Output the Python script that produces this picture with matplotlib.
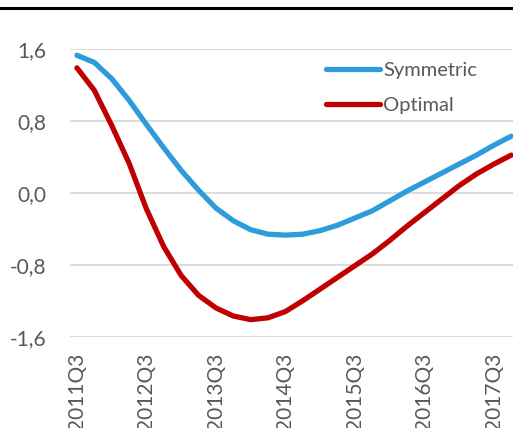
# -*- coding: utf-8 -*-
import numpy as np
import matplotlib
matplotlib.use("Agg")
import matplotlib.pyplot as plt
from matplotlib.lines import Line2D

# quarters 2011Q3 .. 2017Q4
quarters = ['%dQ%d' % (2011 + (q + 2) // 4, (q + 2) % 4 + 1) for q in range(26)]
symmetric = [1.53, 1.45, 1.27, 1.03, 0.76, 0.50, 0.25, 0.03, -0.17, -0.31, -0.41, -0.46,
             -0.47, -0.46, -0.42, -0.36, -0.28, -0.20, -0.09, 0.02, 0.12, 0.22, 0.32, 0.42,
             0.53, 0.63]
optimal = [1.39, 1.14, 0.75, 0.33, -0.18, -0.60, -0.92, -1.14, -1.28, -1.37, -1.41, -1.39,
           -1.32, -1.20, -1.07, -0.94, -0.81, -0.68, -0.53, -0.37, -0.22, -0.07, 0.08, 0.21,
           0.32, 0.42]
ytick_vals = [-1.6, -0.8, 0.0, 0.8, 1.6]
ytick_labels = ['-1,6', '-0,8', '0,0', '0,8', '1,6']

plt.rcParams['font.family'] = ['Lato', 'DejaVu Sans']
grey = '#595959'

fig = plt.figure(figsize=(5.13, 4.28), dpi=100)
ax = fig.add_axes([70 / 513, 91.3 / 428, 443 / 513, 287.7 / 428])

x = np.arange(len(quarters))
ax.plot(x, symmetric, color='#2E9BDA', lw=3.8, solid_capstyle='round', label='Symmetric')
ax.plot(x, optimal, color='#C00000', lw=3.8, solid_capstyle='round', label='Optimal')

ax.set_ylim(-1.6, 1.6)
ax.set_xlim(-0.4, 25.1)
ax.set_yticks(ytick_vals)
ax.set_yticklabels(ytick_labels)
ax.set_xticks(x[::4])
ax.set_xticklabels(quarters[::4], rotation=90)
ax.tick_params(length=0, labelsize=15, colors=grey)
ax.tick_params(axis='y', pad=17)
ax.tick_params(axis='x', pad=11.5)
ax.grid(axis='y', color='#D9D9D9', lw=1.3)
ax.set_axisbelow(True)
for s in ax.spines.values():
    s.set_visible(False)

leg = ax.legend(loc='upper left', bbox_to_anchor=(0.579, 0.956), frameon=False,
                fontsize=14.5, handlelength=2.65, handletextpad=0.15, labelspacing=0.88,
                borderpad=0, borderaxespad=0)
for t in leg.get_texts():
    t.set_color(grey)

# black rule on top
fig.add_artist(Line2D([0, 1], [1 - 8 / 428, 1 - 8 / 428], color='black', lw=2.2,
                      transform=fig.transFigure))

plt.savefig('out.png', dpi=100)
